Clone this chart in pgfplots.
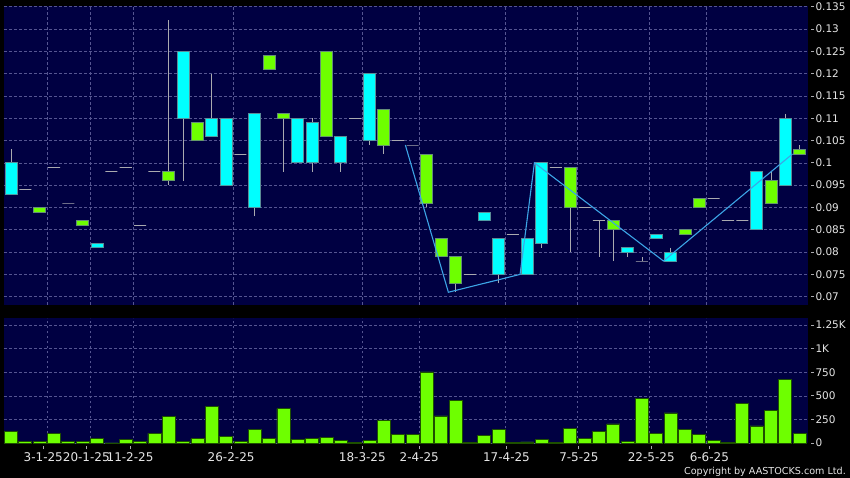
\documentclass[border=0pt]{standalone}
\usepackage{pgfplots}
\pgfplotsset{compat=1.18}
\usepgfplotslibrary{statistics}
\usepackage{fontspec}
\setmainfont{DejaVu Sans}

\definecolor{navybg}{RGB}{0,0,66}
\definecolor{gridcol}{RGB}{85,85,145}
\definecolor{cyanbody}{RGB}{0,255,255}
\definecolor{cyanedge}{RGB}{90,140,150}
\definecolor{limebody}{RGB}{110,255,0}
\definecolor{limeedge}{RGB}{100,140,120}
\definecolor{voledge}{RGB}{30,80,0}
\definecolor{wick}{RGB}{170,170,175}
\definecolor{zigzag}{RGB}{60,165,230}
\definecolor{textcol}{RGB}{230,230,230}

\tikzset{
  candleup/.style={draw=cyanedge, fill=cyanbody},
  candledn/.style={draw=limeedge, fill=limebody},
  candleflat/.style={draw=wick, fill=none},
}

% prices are given in thousandths (93 = 0.093)
% #1 position, #2 style, #3 low, #4 body bottom, #5 body top, #6 high
\newcommand{\candle}[6]{%
  \addplot[#2, line width=0.8pt, boxplot prepared={draw position=#1,
    lower whisker=#3, lower quartile=#4, median=#4,
    upper quartile=#5, upper whisker=#6}] coordinates {};}

\pgfplotstableread{
x vol
0 124
1 19
2 19
3 103
4 15
5 19
6 47
7 2
8 37
9 19
10 103
11 286
12 19
13 45
14 389
15 66
16 18
17 147
18 49
19 364
20 42
21 49
22 63
23 31
24 3
25 28
26 238
27 88
28 91
29 753
30 287
31 452
32 3
33 80
34 140
35 5
36 12
37 35
38 3
39 158
40 49
41 119
42 203
43 21
44 469
45 98
46 319
47 140
48 91
49 31
50 3
51 417
52 182
53 350
54 676
55 98
}\volumes

\begin{document}
\begin{tikzpicture}
\fill[black] (0,0) rectangle (850pt,478pt);

\pgfplotsset{
  panel/.style={
    scale only axis, width=804pt, anchor=south west,
    xmin=-0.49, xmax=55.58,
    axis background/.style={fill=navybg},
    axis line style={draw=none},
    grid style={draw=gridcol, dash pattern=on 2.5pt off 2.5pt, line width=0.6pt},
    ymajorgrids=true,
    ytick pos=right, yticklabel pos=right,
    tick align=outside, major tick length=3pt,
    tick style={draw=wick, line width=0.8pt},
    y tick style={xshift=3pt},
    yticklabel style={font=\fontsize{10.5}{12}\selectfont, text=textcol, xshift=1pt},
    extra x ticks={2.5,5.5,8.5,15.5,24.5,28.5,34.5,39.5,44.5,48.5},
    extra x tick labels={},
    extra x tick style={grid=major, major tick length=0pt},
  },
}

% price panel
\begin{axis}[panel,
  at={(4pt,173pt)}, height=299pt,
  ymin=68.14, ymax=135.16,
  xtick=\empty,
  ytick={70,75,80,85,90,95,100,105,110,115,120,125,130,135},
  yticklabels={0.07,0.075,0.08,0.085,0.09,0.095,0.1,0.105,0.11,0.115,0.12,0.125,0.13,0.135},
  boxplot/draw direction=y,
  boxplot/box extend=0.84,
  boxplot/whisker extend=0,
  boxplot/every whisker/.style={draw=wick, solid},
  boxplot/every median/.style={draw=none},
]
\candle{0}{candleup}{93}{93}{100}{103}
\candle{1}{candleflat}{94}{94}{94}{94}
\candle{2}{candledn}{89}{89}{90}{90}
\candle{3}{candleflat}{99}{99}{99}{99}
\candle{4}{candleflat}{91}{91}{91}{91}
\candle{5}{candledn}{86}{86}{87}{87}
\candle{6}{candleup}{81}{81}{82}{82}
\candle{7}{candleflat}{98}{98}{98}{98}
\candle{8}{candleflat}{99}{99}{99}{99}
\candle{9}{candleflat}{86}{86}{86}{86}
\candle{10}{candleflat}{98}{98}{98}{98}
\candle{11}{candledn}{95}{96}{98}{132}
\candle{12}{candleup}{96}{110}{125}{125}
\candle{13}{candledn}{105}{105}{109}{109}
\candle{14}{candleup}{106}{106}{110}{120}
\candle{15}{candleup}{95}{95}{110}{110}
\candle{16}{candleflat}{102}{102}{102}{102}
\candle{17}{candleup}{88}{90}{111}{111}
\candle{18}{candledn}{121}{121}{124}{124}
\candle{19}{candledn}{98}{110}{111}{111}
\candle{20}{candleup}{100}{100}{110}{110}
\candle{21}{candleup}{98}{100}{109}{110}
\candle{22}{candledn}{106}{106}{125}{125}
\candle{23}{candleup}{98}{100}{106}{106}
\candle{24}{candleflat}{110}{110}{110}{110}
\candle{25}{candleup}{104}{105}{120}{120}
\candle{26}{candledn}{102}{104}{112}{112}
\candle{27}{candleflat}{105}{105}{105}{105}
\candle{28}{candleflat}{104}{104}{104}{104}
\candle{29}{candledn}{90}{91}{102}{102}
\candle{30}{candledn}{79}{79}{83}{83}
\candle{31}{candledn}{71}{73}{79}{79}
\candle{32}{candleflat}{75}{75}{75}{75}
\candle{33}{candleup}{87}{87}{89}{89}
\candle{34}{candleup}{73}{75}{83}{83}
\candle{35}{candleflat}{84}{84}{84}{84}
\candle{36}{candleup}{75}{75}{83}{83}
\candle{37}{candleup}{81}{82}{100}{100}
\candle{38}{candleflat}{99}{99}{99}{99}
\candle{39}{candledn}{80}{90}{99}{99}
\candle{40}{candleflat}{90}{90}{90}{90}
\candle{41}{candleflat}{79}{87}{87}{87}
\candle{42}{candledn}{78}{85}{87}{87}
\candle{43}{candleup}{79}{80}{81}{81}
\candle{44}{candleflat}{78}{78}{78}{79}
\candle{45}{candleup}{83}{83}{84}{84}
\candle{46}{candleup}{78}{78}{80}{81}
\candle{47}{candledn}{84}{84}{85}{85}
\candle{48}{candledn}{90}{90}{92}{92}
\candle{49}{candleflat}{92}{92}{92}{92}
\candle{50}{candleflat}{87}{87}{87}{87}
\candle{51}{candleflat}{87}{87}{87}{87}
\candle{52}{candleup}{85}{85}{98}{98}
\candle{53}{candledn}{91}{91}{96}{98}
\candle{54}{candleup}{95}{95}{110}{111}
\candle{55}{candledn}{102}{102}{103}{104}
\addplot[draw=zigzag, line width=1.1pt, mark=none] coordinates {
  (27.5,104) (30.5,71) (35.5,75) (36.5,100) (45.5,78) (54.5,102)
};
\end{axis}

% volume panel
\begin{axis}[panel,
  at={(4pt,34.7pt)}, height=125pt,
  ymin=-2, ymax=1321,
  ytick={0,250,500,750,1000,1250},
  yticklabels={0,250,500,750,1K,1.25K},
  xtick={2.25,5.25,8.3,15.35,24.5,28.47,34.55,39.6,44.65,48.7},
  xticklabels={3-1-25,20-1-25,11-2-25,26-2-25,18-3-25,2-4-25,17-4-25,7-5-25,22-5-25,6-6-25},
  xtick pos=bottom,
  x tick style={yshift=-3pt},
  xticklabel style={font=\fontsize{12}{14}\selectfont, text=textcol, yshift=-2.5pt},
]
\addplot[ybar, bar width=13pt, fill=limebody, draw=voledge, line width=0.8pt]
  table[x=x, y=vol] {\volumes};
\end{axis}

\node[anchor=base east, text=textcol, font=\fontsize{9.6}{11}\selectfont, inner sep=0pt]
  at (846pt,3.7pt) {Copyright by AASTOCKS.com Ltd.};

\pgfresetboundingbox
\useasboundingbox (0,0) rectangle (850pt,478pt);
\end{tikzpicture}
\end{document}
